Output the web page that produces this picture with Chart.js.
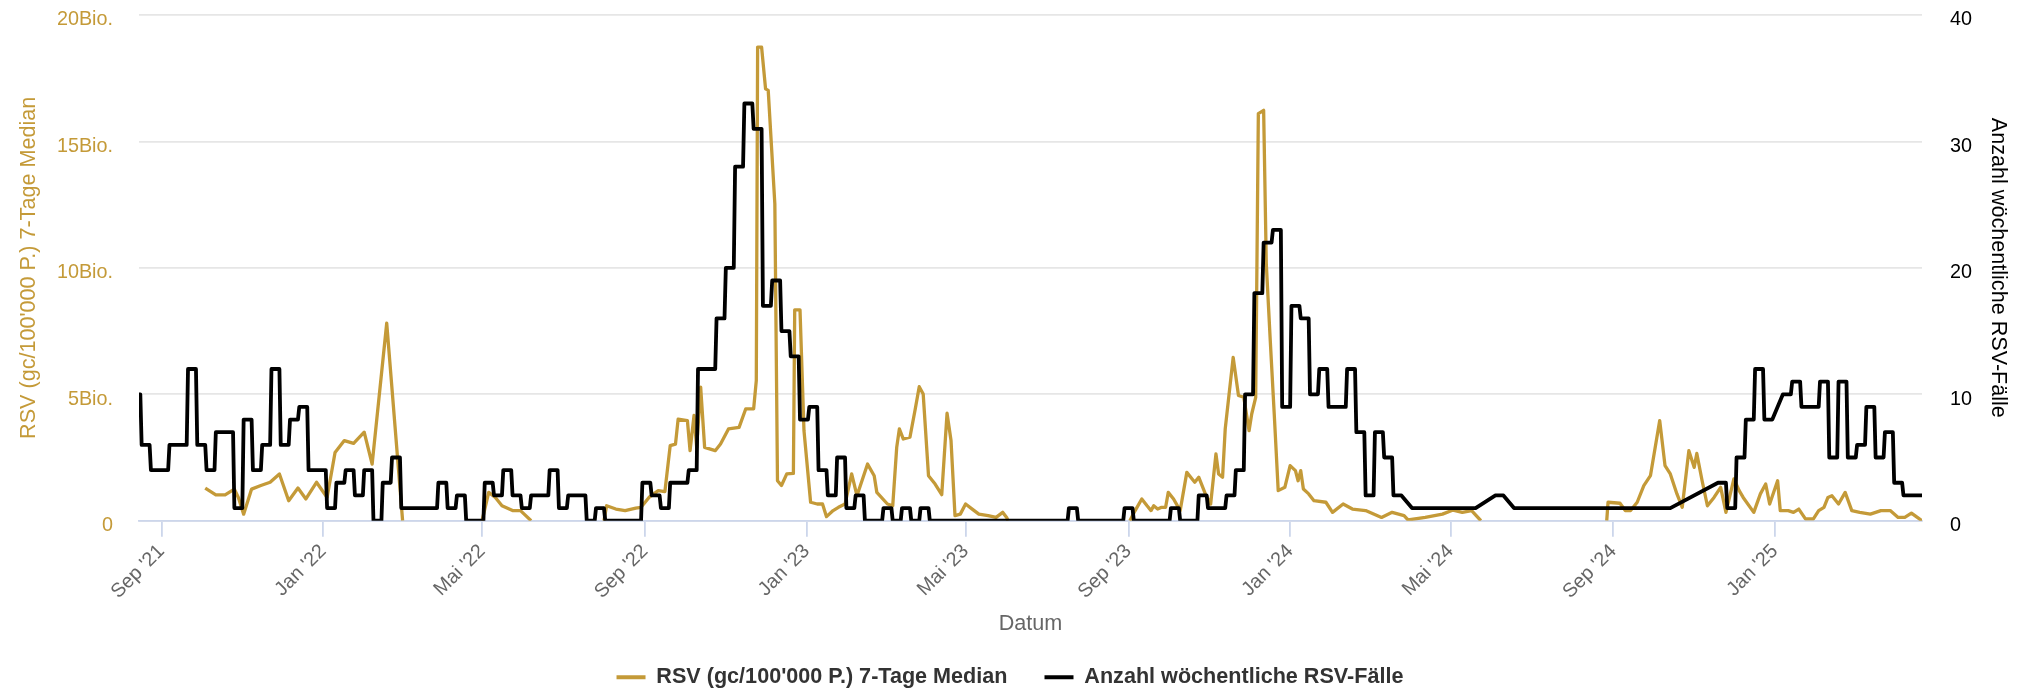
<!DOCTYPE html>
<html>
<head>
<meta charset="utf-8">
<script src="https://cdn.jsdelivr.net/npm/chart.js@4.4.1/dist/chart.umd.min.js"></script>
<style>
  html, body { margin: 0; padding: 0; background: #fff; }
  canvas { display: block; }
</style>
</head>
<body>
<canvas id="myChart" width="2020" height="692"></canvas>
<script>
// days are counted from 2021-08-15
const baseDate = Date.UTC(2021, 7, 15);
const xEndDate = '2025-04-22';

const xTickDates = ['2021-09-01', '2022-01-01', '2022-05-01', '2022-09-01', '2023-01-01', '2023-05-01',
                    '2023-09-01', '2024-01-01', '2024-05-01', '2024-09-01', '2025-01-01'];
const monthNames = ['Jan', 'Feb', 'Mär', 'Apr', 'Mai', 'Jun', 'Jul', 'Aug', 'Sep', 'Okt', 'Nov', 'Dez'];

// RSV im Abwasser, 7-Tage Median (Bio.), null = Lücke
const rsvDay = [
  50, 58, 65, 72, 75, 79, 85, 92, 99, 106, 113, 120, 126, 134, 142, 148, 155, 162, 170, 176, 187, 199,
  230,
  259, 264, 269, 274, 282, 288, 296,
  320,
  351, 353, 360, 367, 375, 379, 385, 392, 397, 401,
  405, 407, 414, 416, 419, 421, 424, 427, 435, 439,
  445, 453, 458, 464, 466, 467, 470, 473, 475, 480,
  482, 485, 489, 494, 495, 499, 502, 507, 512, 516,
  519, 524, 528, 533, 538, 542, 550, 555, 557, 565,
  569, 572, 574, 577, 582, 586, 589, 592, 596, 601,
  606, 610, 613, 616, 620, 624, 629, 634, 641, 647,
  652, 655, 656,
  700,
  748, 752, 757, 761, 764, 766, 769, 772, 775, 777,
  781, 786, 791, 795, 797, 800, 805, 809, 813, 815,
  818, 820, 826, 830, 834, 838, 840, 843, 845, 849,
  851, 854, 857, 860, 865, 869, 873, 875, 877, 879,
  883, 887, 896, 901, 909, 916, 926, 938, 946, 955,
  958, 971, 984, 992, 999, 1006, 1013,
  1060,
  1108, 1109, 1118, 1122, 1126, 1131, 1136, 1141, 1148, 1152,
  1156, 1161, 1165, 1170, 1174, 1176, 1180, 1184, 1189, 1194,
  1198, 1201, 1204, 1208, 1211, 1219, 1224, 1228, 1231, 1237,
  1239, 1245, 1249, 1253, 1258, 1264, 1268, 1272, 1275, 1278,
  1283, 1288, 1293, 1299, 1307, 1315, 1322, 1328, 1333, 1338,
  1343, 1346
];
const rsvValue = [
  1.29, 1.02, 1.02, 1.25, 0.92, 0.26, 1.25, 1.39, 1.52, 1.85, 0.79, 1.29, 0.86, 1.52, 0.92, 2.70, 3.17, 3.06, 3.50, 2.24, 7.81, 0,
  null,
  0, 1.12, 0.92, 0.59, 0.40, 0.40, 0,
  null,
  0, 0.59, 0.46, 0.40, 0.50, 0.53, 0.92, 1.19, 1.15, 2.97,
  3.03, 4.02, 3.96, 2.77, 4.16, 2.90, 5.28, 2.90, 2.77, 3.03,
  3.63, 3.69, 4.42, 4.42, 5.54, 18.73, 18.73, 17.08, 17.02, 12.53,
  1.58, 1.39, 1.85, 1.87, 8.34, 8.34, 3.56, 0.73, 0.66, 0.66,
  0.16, 0.40, 0.53, 0.66, 1.85, 0.99, 2.24, 1.78, 1.12, 0.66,
  0.59, 2.90, 3.63, 3.23, 3.30, 4.42, 5.30, 5.01, 1.78, 1.45,
  1.03, 4.25, 3.17, 0.20, 0.26, 0.66, 0.46, 0.26, 0.20, 0.13,
  0.33, 0.13, 0,
  null,
  0, 0.40, 0.86, 0.59, 0.40, 0.59, 0.46, 0.53, 0.53, 1.12,
  0.86, 0.40, 1.91, 1.65, 1.52, 1.72, 1.06, 0.66, 2.64, 1.85,
  1.72, 3.63, 6.46, 4.95, 4.88, 3.56, 4.22, 4.88, 16.10, 16.23,
  10.16, 7.12, 4.22, 1.19, 1.32, 2.18, 1.98, 1.58, 1.98, 1.25,
  1.06, 0.79, 0.73, 0.33, 0.66, 0.46, 0.40, 0.13, 0.33, 0.20,
  0.03, 0.13, 0.26, 0.42, 0.33, 0.40, 0,
  null,
  0, 0.73, 0.69, 0.40, 0.40, 0.73, 1.39, 1.78, 3.96, 2.18,
  1.85, 1.06, 0.53, 2.77, 2.11, 2.66, 1.58, 0.59, 0.92, 1.32,
  0.33, 0.99, 1.65, 1.19, 0.92, 0.33, 1.06, 1.45, 0.66, 1.58,
  0.40, 0.40, 0.33, 0.46, 0.07, 0.07, 0.40, 0.53, 0.92, 0.99,
  0.66, 1.12, 0.40, 0.33, 0.26, 0.40, 0.40, 0.13, 0.13, 0.30,
  0.11, 0
];

// wöchentliche Fälle, erste Woche beginnt an Tag -5, null = keine Meldung
const firstWeekDay = -5;
const cases = [
  10, 6, 4, 4, 6, 6, 12, 6, 4, 7,
  7, 1, 8, 4, 6, 12, 6, 8, 9, 4,
  4, 1, 3, 4, 2, 4, 0, 3, 5, 1,
  1, 1, 1, 3, 1, 2, 0, 0, 3, 2,
  4, 2, 1, 2, 2, 4, 1, 2, 2, 0,
  1, 0, 0, 0, 0, 3, 2, 1, 3, 3,
  4, 12, 12, 16, 20, 28, 33, 31, 17, 19,
  15, 13, 8, 9, 4, 2, 5, 1, 2, 0,
  0, 1, 0, 1, 0, 1, 0, 0, 0, 0,
  0, 0, 0, 0, 0, 0, 0, 0, 0, 0,
  0, 1, 0, 0, 0, 0, 0, 1, 0, 0,
  0, 0, 1, 0, 0, 2, 1, 1, 2, 4,
  10, 18, 22, 23, 9, 17, 16, 10, 12, 9,
  9, 12, 7, 2, 7, 5, 2, null, 1, 1,
  1, 1, 1, 1, 1, null, null, 2, null, 1,
  1, 1, 1, 1, 1, 1, 1, 1, 1, 1,
  1, 1, 1, 1, 1, 1, null, null, null, null,
  null, 3, 1, 5, 8, 12, 8, null, 10, 11,
  9, 9, 11, 5, 11, 5, 6, 9, 5, 7,
  3, 2, 2, 2
];

const gold = '#C49A38';
const dayOf = s => Math.round((Date.parse(s) - baseDate) / 86400000);
const tickDays = xTickDates.map(dayOf);
const tickText = s => monthNames[+s.slice(5, 7) - 1] + " '" + s.slice(2, 4);

const rsvPoints = rsvDay.map((d, i) => ({ x: d, y: rsvValue[i] }));
const casePoints = [];
cases.forEach((v, i) => {
    if (v === null) return;
    const start = firstWeekDay + 7 * i;
    casePoints.push({ x: start, y: v }, { x: start + 6, y: v });
});

Chart.defaults.font.family = '"Liberation Sans", Arial, Helvetica, sans-serif';

// fixed axis widths, and no extra top room for the tick labels
const fitY = w => s => { s.width = w; s.paddingTop = 0; s.paddingBottom = 0; };

const ctx = document.getElementById('myChart').getContext('2d');
const myChart = new Chart(ctx, {
    type: 'line',
    data: {
        datasets: [
            {
                label: "RSV (gc/100'000 P.) 7-Tage Median",
                data: rsvPoints,
                borderColor: gold,
                backgroundColor: gold,
                borderWidth: 3.3,
                borderJoinStyle: 'round',
                pointRadius: 0,
                spanGaps: false,
                yAxisID: 'yRsv',
                order: 1
            },
            {
                label: 'Anzahl wöchentliche RSV-Fälle',
                data: casePoints,
                borderColor: '#000',
                backgroundColor: '#000',
                borderWidth: 3.8,
                borderJoinStyle: 'round',
                pointRadius: 0,
                yAxisID: 'yCases',
                order: 0
            }
        ]
    },
    options: {
        responsive: false,
        animation: false,
        devicePixelRatio: 1,
        layout: { padding: { top: 15, right: 0, bottom: -6, left: 0 } },
        plugins: {
            tooltip: { enabled: false },
            legend: {
                position: 'bottom',
                labels: {
                    boxWidth: 29,
                    boxHeight: 4,
                    padding: 37,
                    color: '#333',
                    font: { size: 21.6, weight: 'bold' },
                    sort: (a, b) => a.datasetIndex - b.datasetIndex,
                    generateLabels: chart => Chart.defaults.plugins.legend.labels.generateLabels(chart)
                        .map(l => Object.assign(l, { fillStyle: l.strokeStyle, lineWidth: 0 }))
                }
            }
        },
        scales: {
            x: {
                type: 'linear',
                min: 0,
                max: dayOf(xEndDate),
                afterBuildTicks: s => { s.ticks = tickDays.map(v => ({ value: v })); },
                afterFit: s => { s.height = 108.7; },
                ticks: {
                    autoSkip: false,
                    minRotation: 45,
                    maxRotation: 45,
                    color: '#666',
                    font: { size: 19.8 },
                    callback: v => {
                        const i = tickDays.indexOf(v);
                        return i >= 0 ? tickText(xTickDates[i]) : '';
                    }
                },
                grid: { drawOnChartArea: false, drawTicks: true, tickLength: 16, color: '#ccd6eb', lineWidth: 1.8 },
                border: { color: '#ccd6eb', width: 1.8 },
                title: { display: true, text: 'Datum', color: '#666', font: { size: 21.6 }, padding: { top: 0, bottom: -8 } }
            },
            yRsv: {
                position: 'left',
                min: 0,
                max: 20,
                afterFit: fitY(139),
                ticks: {
                    stepSize: 5,
                    padding: 26,
                    labelOffset: 5,
                    color: gold,
                    font: { size: 19.8 },
                    callback: v => v === 0 ? '0' : v + 'Bio.'
                },
                grid: { color: '#e6e6e6', lineWidth: 1.8, drawTicks: false },
                border: { display: false },
                title: { display: true, text: "RSV (gc/100'000 P.) 7-Tage Median", color: gold, font: { size: 21.6 }, padding: { top: 16, bottom: 0 } }
            },
            yCases: {
                position: 'right',
                min: 0,
                max: 40,
                afterFit: fitY(98),
                ticks: { stepSize: 10, padding: 28, labelOffset: 5, color: '#000', font: { size: 19.8 } },
                grid: { drawOnChartArea: false, drawTicks: false },
                border: { display: false },
                title: { display: true, text: 'Anzahl wöchentliche RSV-Fälle', color: '#000', font: { size: 21.6 }, padding: { top: 9, bottom: 0 } }
            }
        }
    }
});
</script>
</body>
</html>
